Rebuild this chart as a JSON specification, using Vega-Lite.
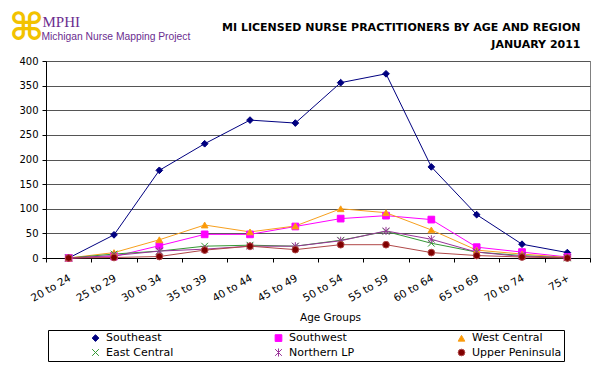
{
  "$schema": "https://vega.github.io/schema/vega-lite/v6.json",
  "width": 544,
  "height": 197,
  "autosize": {"type": "none"},
  "padding": {"left": 46, "top": 61, "right": 10, "bottom": 120},
  "background": "white",
  "title": {"text": "⌘", "anchor": "start", "frame": "group", "dx": -37, "offset": -72, "fontSize": 38, "color": "#F2C200", "fontWeight": "bold", "font": "DejaVu Sans", "baseline": "bottom"},
  "datasets": {
    "nurses": [
      {"age": "20 to 24", "region": "Southeast", "value": 0},
      {"age": "25 to 29", "region": "Southeast", "value": 47},
      {"age": "30 to 34", "region": "Southeast", "value": 178},
      {"age": "35 to 39", "region": "Southeast", "value": 232},
      {"age": "40 to 44", "region": "Southeast", "value": 280},
      {"age": "45 to 49", "region": "Southeast", "value": 274},
      {"age": "50 to 54", "region": "Southeast", "value": 356},
      {"age": "55 to 59", "region": "Southeast", "value": 374},
      {"age": "60 to 64", "region": "Southeast", "value": 185},
      {"age": "65 to 69", "region": "Southeast", "value": 88},
      {"age": "70 to 74", "region": "Southeast", "value": 28},
      {"age": "75+", "region": "Southeast", "value": 11},
      {"age": "20 to 24", "region": "Southwest", "value": 0},
      {"age": "25 to 29", "region": "Southwest", "value": 3},
      {"age": "30 to 34", "region": "Southwest", "value": 25},
      {"age": "35 to 39", "region": "Southwest", "value": 48},
      {"age": "40 to 44", "region": "Southwest", "value": 48},
      {"age": "45 to 49", "region": "Southwest", "value": 64},
      {"age": "50 to 54", "region": "Southwest", "value": 80},
      {"age": "55 to 59", "region": "Southwest", "value": 86},
      {"age": "60 to 64", "region": "Southwest", "value": 78},
      {"age": "65 to 69", "region": "Southwest", "value": 22},
      {"age": "70 to 74", "region": "Southwest", "value": 12},
      {"age": "75+", "region": "Southwest", "value": 2},
      {"age": "20 to 24", "region": "West Central", "value": 0},
      {"age": "25 to 29", "region": "West Central", "value": 11},
      {"age": "30 to 34", "region": "West Central", "value": 37},
      {"age": "35 to 39", "region": "West Central", "value": 67},
      {"age": "40 to 44", "region": "West Central", "value": 53},
      {"age": "45 to 49", "region": "West Central", "value": 65},
      {"age": "50 to 54", "region": "West Central", "value": 100},
      {"age": "55 to 59", "region": "West Central", "value": 92},
      {"age": "60 to 64", "region": "West Central", "value": 57},
      {"age": "65 to 69", "region": "West Central", "value": 16},
      {"age": "70 to 74", "region": "West Central", "value": 8},
      {"age": "75+", "region": "West Central", "value": 1},
      {"age": "20 to 24", "region": "East Central", "value": 0},
      {"age": "25 to 29", "region": "East Central", "value": 8},
      {"age": "30 to 34", "region": "East Central", "value": 14},
      {"age": "35 to 39", "region": "East Central", "value": 24},
      {"age": "40 to 44", "region": "East Central", "value": 26},
      {"age": "45 to 49", "region": "East Central", "value": 24},
      {"age": "50 to 54", "region": "East Central", "value": 36},
      {"age": "55 to 59", "region": "East Central", "value": 54},
      {"age": "60 to 64", "region": "East Central", "value": 30},
      {"age": "65 to 69", "region": "East Central", "value": 12},
      {"age": "70 to 74", "region": "East Central", "value": 5},
      {"age": "75+", "region": "East Central", "value": 0},
      {"age": "20 to 24", "region": "Northern LP", "value": 0},
      {"age": "25 to 29", "region": "Northern LP", "value": 5},
      {"age": "30 to 34", "region": "Northern LP", "value": 14},
      {"age": "35 to 39", "region": "Northern LP", "value": 18},
      {"age": "40 to 44", "region": "Northern LP", "value": 24},
      {"age": "45 to 49", "region": "Northern LP", "value": 24},
      {"age": "50 to 54", "region": "Northern LP", "value": 35},
      {"age": "55 to 59", "region": "Northern LP", "value": 55},
      {"age": "60 to 64", "region": "Northern LP", "value": 38},
      {"age": "65 to 69", "region": "Northern LP", "value": 12},
      {"age": "70 to 74", "region": "Northern LP", "value": 3},
      {"age": "75+", "region": "Northern LP", "value": 1},
      {"age": "20 to 24", "region": "Upper Peninsula", "value": 0},
      {"age": "25 to 29", "region": "Upper Peninsula", "value": 1},
      {"age": "30 to 34", "region": "Upper Peninsula", "value": 3},
      {"age": "35 to 39", "region": "Upper Peninsula", "value": 16},
      {"age": "40 to 44", "region": "Upper Peninsula", "value": 24},
      {"age": "45 to 49", "region": "Upper Peninsula", "value": 17},
      {"age": "50 to 54", "region": "Upper Peninsula", "value": 27},
      {"age": "55 to 59", "region": "Upper Peninsula", "value": 27},
      {"age": "60 to 64", "region": "Upper Peninsula", "value": 11},
      {"age": "65 to 69", "region": "Upper Peninsula", "value": 5},
      {"age": "70 to 74", "region": "Upper Peninsula", "value": 2},
      {"age": "75+", "region": "Upper Peninsula", "value": 0}
    ]
  },
  "data": {"name": "nurses"},
  "layer": [
    {
      "mark": {"type": "line", "strokeWidth": 1},
      "encoding": {
        "x": {
          "field": "age", "type": "ordinal", "sort": null,
          "scale": {"type": "band", "domain": ["20 to 24", "25 to 29", "30 to 34", "35 to 39", "40 to 44", "45 to 49", "50 to 54", "55 to 59", "60 to 64", "65 to 69", "70 to 74", "75+"], "paddingInner": 0, "paddingOuter": 0},
          "axis": {
            "orient": "bottom", "title": "Age Groups", "titleFontWeight": "normal", "titleFontSize": 10.5, "titleColor": "#000",
            "titleX": 284, "titleY": 59, "titleBaseline": "middle", "titleAlign": "center",
            "labelAngle": -30, "labelAlign": "right", "labelBaseline": "middle", "labelPadding": 15, "labelOffset": 1, "labelFontSize": 10.5, "labelColor": "#000",
            "tickBand": "extent", "tickSize": 4, "tickColor": "#000", "domainColor": "#000", "grid": false
          }
        },
        "y": {
          "field": "value", "type": "quantitative",
          "scale": {"domain": [0, 400], "nice": false},
          "axis": {
            "title": ["MI LICENSED NURSE PRACTITIONERS BY AGE AND REGION", "JANUARY 2011"],
            "titleAngle": 0, "titleAlign": "right", "titleBaseline": "alphabetic", "titleX": 534, "titleY": -31,
            "titleFontSize": 11, "titleFontWeight": "bold", "titleColor": "#000", "titleLineHeight": 17,
            "values": [0, 50, 100, 150, 200, 250, 300, 350, 400],
            "grid": true, "gridColor": "#555", "domainColor": "#000", "tickColor": "#000", "tickSize": 4,
            "labelFontSize": 10, "labelColor": "#000", "labelPadding": 4
          }
        },
        "stroke": {
          "field": "region", "type": "nominal",
          "scale": {"domain": ["Southeast", "Southwest", "West Central", "East Central", "Northern LP", "Upper Peninsula"],
                    "range": ["#000080", "#FF00FF", "#F7A01E", "#339933", "#993399", "#B04848"]},
          "legend": {"title": null, "orient": "none", "legendX": 2, "legendY": 269, "direction": "horizontal"}
        }
      }
    },
    {
      "mark": {"type": "point", "filled": true, "opacity": 1, "size": 45, "strokeWidth": 1},
      "encoding": {
        "x": {
          "field": "age", "type": "ordinal", "sort": null,
          "scale": {"type": "band", "domain": ["20 to 24", "25 to 29", "30 to 34", "35 to 39", "40 to 44", "45 to 49", "50 to 54", "55 to 59", "60 to 64", "65 to 69", "70 to 74", "75+"], "paddingInner": 0, "paddingOuter": 0},
          "axis": {
            "orient": "top", "labels": false, "ticks": false, "domain": false, "grid": false,
            "title": "MPHI", "titleFont": "Liberation Serif", "titleFontSize": 15, "titleFontWeight": "normal", "titleColor": "#6B2D8F",
            "titleX": -4, "titleY": -40, "titleAlign": "left", "titleBaseline": "middle"
          }
        },
        "y": {
          "field": "value", "type": "quantitative",
          "scale": {"domain": [0, 400], "nice": false},
          "axis": {
            "orient": "right", "labels": false, "ticks": false, "domain": false, "grid": false,
            "title": "Michigan Nurse Mapping Project", "titleAngle": 0, "titleAlign": "left", "titleBaseline": "middle",
            "titleX": -549, "titleY": -25, "titleFont": "Liberation Sans", "titleFontSize": 10.3,
            "titleFontWeight": "normal", "titleColor": "#6B2D8F"
          }
        },
        "stroke": {
          "field": "region", "type": "nominal",
          "legend": {"title": null, "orient": "none", "legendX": 2, "legendY": 269, "direction": "horizontal"}
        },
        "fill": {
          "field": "region", "type": "nominal",
          "scale": {"domain": ["Southeast", "Southwest", "West Central", "East Central", "Northern LP", "Upper Peninsula"],
                    "range": ["#000080", "#FF00FF", "#FF9900", "#339933", "#800080", "#800000"]},
          "legend": {"title": null, "orient": "none", "legendX": 2, "legendY": 269, "direction": "horizontal"}
        },
        "shape": {
          "field": "region", "type": "nominal",
          "scale": {"domain": ["Southeast", "Southwest", "West Central", "East Central", "Northern LP", "Upper Peninsula"],
                    "range": ["diamond", "square", "triangle-up", "M-1,-1L1,1M-1,1L1,-1", "M-1,-1L1,1M-1,1L1,-1M0,-1.2L0,1.2", "circle"]},
          "legend": {"title": null, "orient": "none", "legendX": 2, "legendY": 269, "direction": "horizontal"}
        }
      }
    }
  ],
  "resolve": {"scale": {"x": "independent", "y": "independent"}, "axis": {"x": "independent", "y": "independent"}},
  "config": {
    "font": "DejaVu Sans",
    "view": {"stroke": "#808080", "strokeWidth": 1},
    "legend": {
      "columns": 3, "gridAlign": "all", "columnPadding": 37, "rowPadding": 2,
      "padding": 2, "strokeColor": "#000", "symbolOffset": 40, "labelFontSize": 11, "labelColor": "#000", "labelOffset": 5,
      "symbolSize": 45, "symbolStrokeWidth": 1
    }
  }
}
